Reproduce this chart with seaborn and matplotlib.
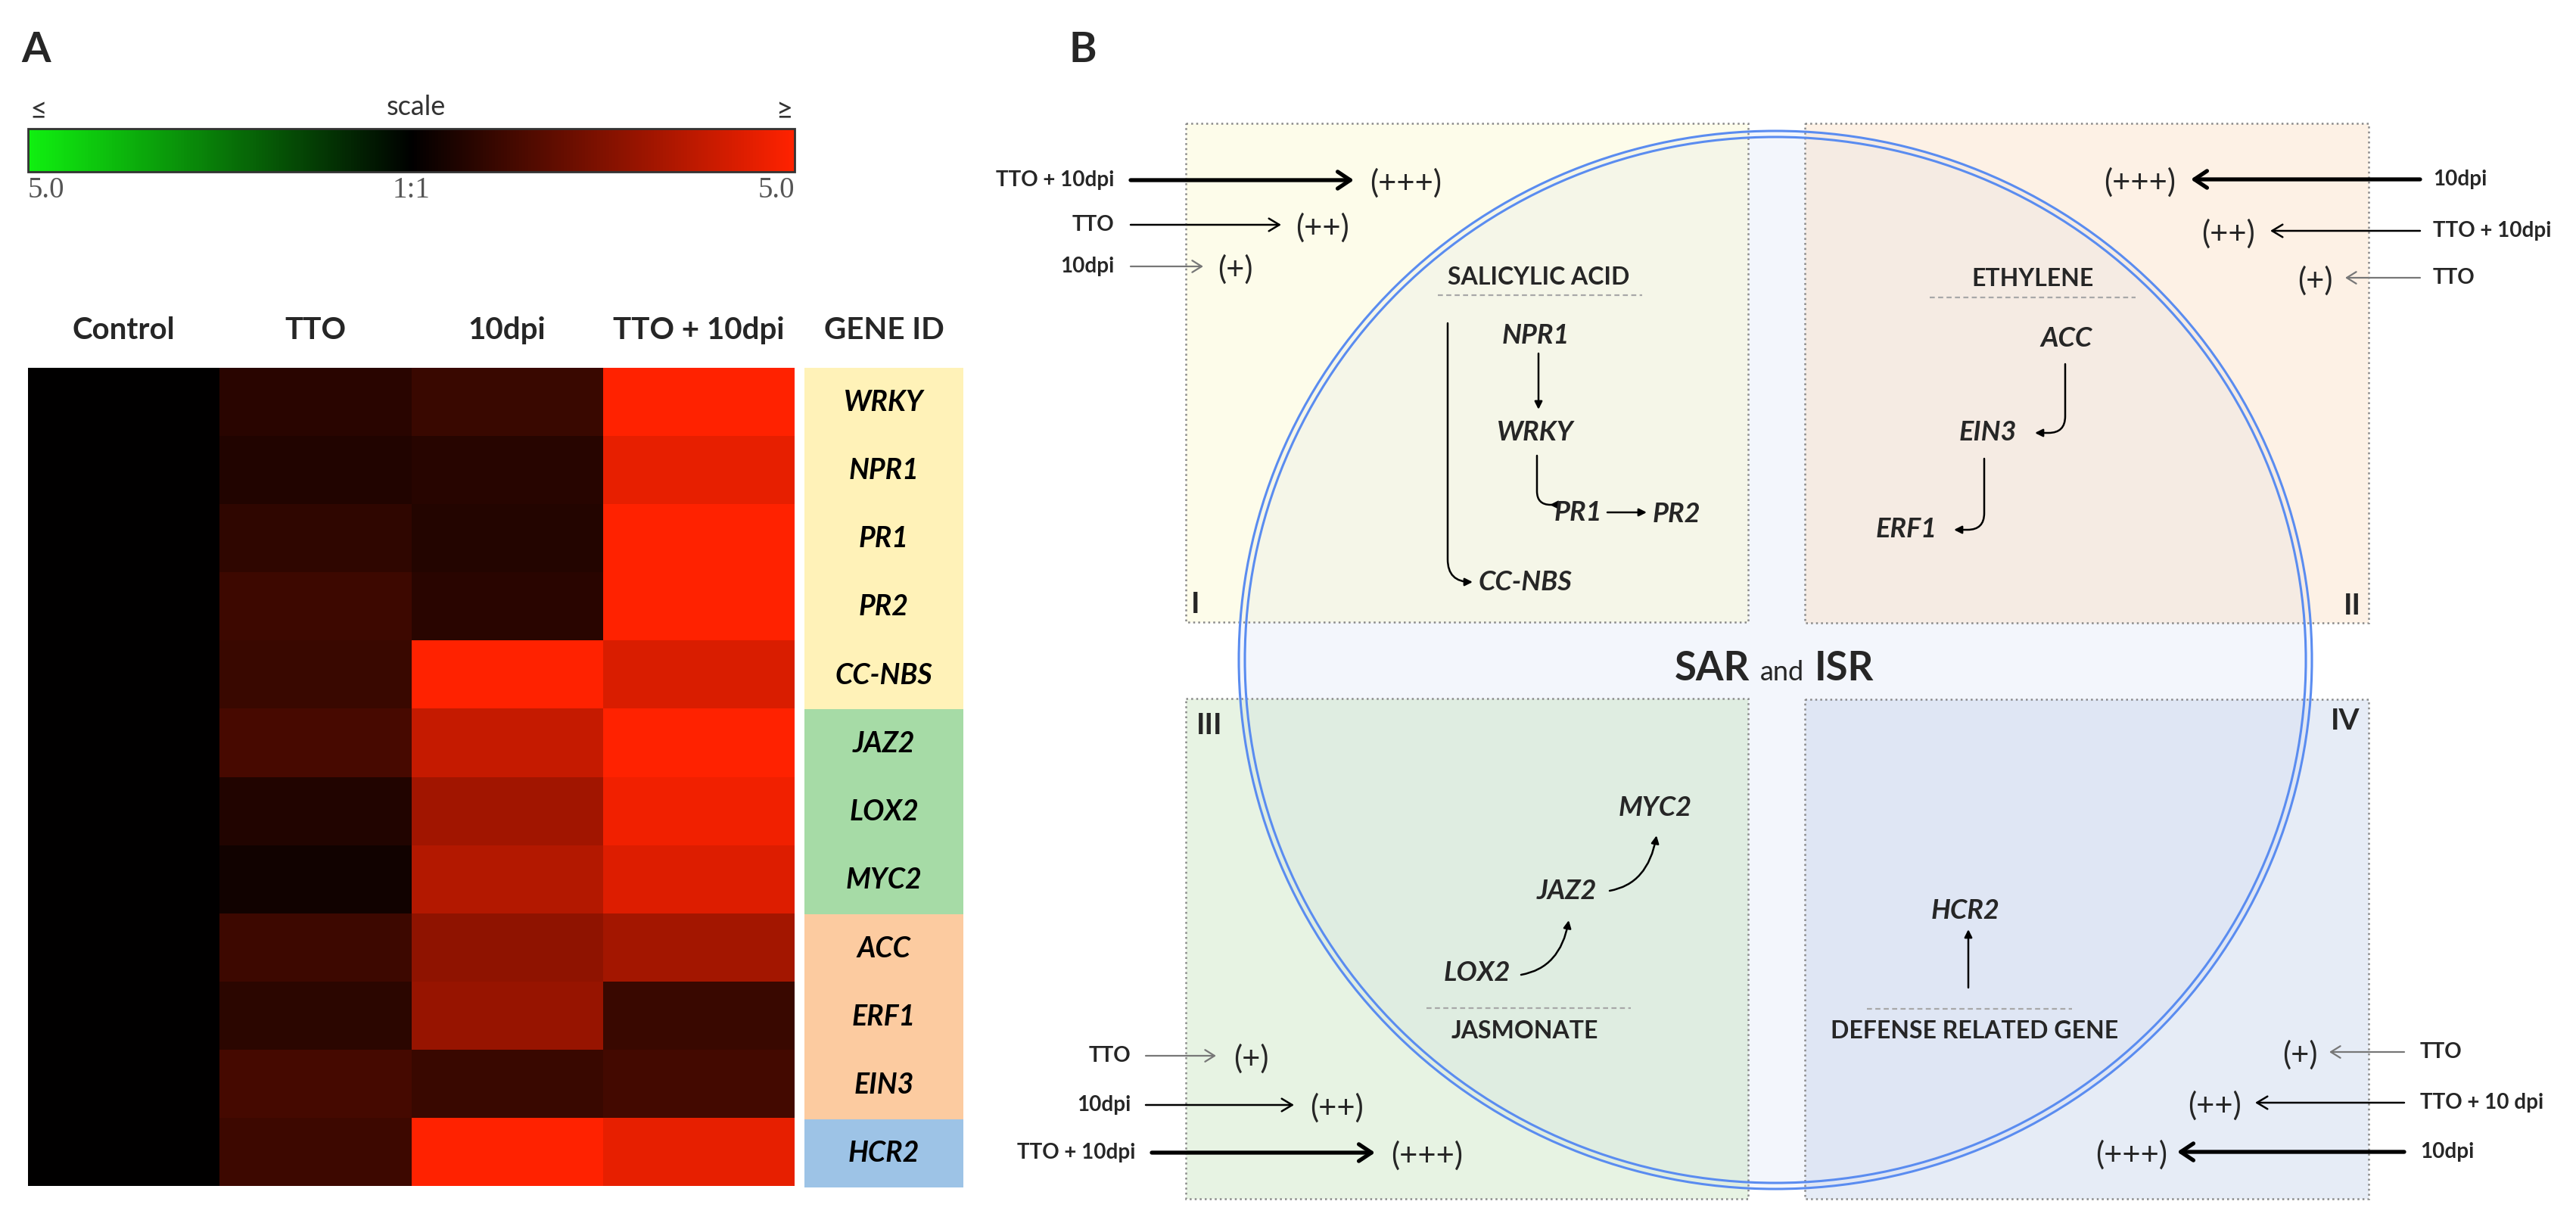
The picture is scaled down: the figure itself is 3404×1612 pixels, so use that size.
import numpy as np
import pandas as pd
import seaborn as sns
import matplotlib.pyplot as plt
from matplotlib.colors import LinearSegmentedColormap, ListedColormap, to_rgb
from matplotlib.patches import Rectangle, Ellipse

# données de la heatmap (échelle -5 .. 5, 0 = 1:1)
treatments = ["Control", "TTO", "10dpi", "TTO + 10dpi"]
genes = ["WRKY", "NPR1", "PR1", "PR2", "CC-NBS", "JAZ2", "LOX2", "MYC2", "ACC", "ERF1", "EIN3", "HCR2"]
control = [0.0] * 12
tto = [0.8, 0.65, 0.9, 1.2, 1.1, 1.4, 0.65, 0.35, 1.2, 0.85, 1.35, 1.2]
dpi10 = [1.1, 0.75, 0.7, 0.8, 5.0, 3.85, 3.15, 3.5, 2.8, 2.95, 1.1, 5.0]
tto_dpi10 = [5.0, 4.5, 5.0, 5.0, 4.25, 5.0, 4.7, 4.3, 3.2, 1.1, 1.3, 4.5]
gene_groups = ["SA"] * 5 + ["JA"] * 3 + ["ET"] * 3 + ["DEF"]
group_colors = {"SA": "#FFF2B8", "JA": "#A6DBA6", "ET": "#FCCBA0", "DEF": "#9DC3E6"}
scale_labels = ["5.0", "1:1", "5.0"]

W, H, DPI = 3404, 1612, 200

sns.set_style("white")
plt.rcParams['font.family'] = ['Lato', 'DejaVu Sans']

fig = plt.figure(figsize=(W / DPI, H / DPI), dpi=DPI)


def px_axes(x0, y0, x1, y1):
    return fig.add_axes([x0 / W, 1 - y1 / H, (x1 - x0) / W, (y1 - y0) / H])


# axe "pixel" pour le panneau B et les lettres
ax = fig.add_axes([0, 0, 1, 1])
ax.set_xlim(0, W)
ax.set_ylim(H, 0)
ax.axis('off')

# ---------------- Panel A ----------------
df = pd.DataFrame({"Control": control, "TTO": tto, "10dpi": dpi10, "TTO + 10dpi": tto_dpi10}, index=genes)
cmap = LinearSegmentedColormap.from_list("gr", [(0, "#10F010"), (0.5, "#000000"), (1, "#FF2200")])

ax_hm = px_axes(37, 486, 1050, 1567)
cax = px_axes(37, 170, 1050, 227)
sns.heatmap(df, ax=ax_hm, cmap=cmap, vmin=-5, vmax=5, cbar_ax=cax,
            cbar_kws={'orientation': 'horizontal'}, yticklabels=False)
ax_hm.tick_params(axis='x', top=True, bottom=False, labeltop=True, labelbottom=False,
                  length=0, pad=11, labelsize=14.5)
for t in ax_hm.get_xticklabels():
    t.set_fontweight('bold')
    t.set_rotation(0)

cbar = ax_hm.collections[0].colorbar
cbar.set_ticks([-5, 0, 5])
cbar.set_ticklabels(scale_labels)
cbar.ax.tick_params(length=0, labelsize=14, labelcolor='#555555', pad=2)
tl = cbar.ax.get_xticklabels()
tl[0].set_ha('left')
tl[-1].set_ha('right')
for t in tl:
    t.set_family('Liberation Serif')
cbar.outline.set_edgecolor('#333333')
cbar.outline.set_linewidth(1.0)

# colonne GENE ID
ax_g = px_axes(1063, 486, 1273, 1569)
codes = np.array([list(group_colors).index(g) for g in gene_groups]).reshape(-1, 1)
sns.heatmap(codes, ax=ax_g, cmap=ListedColormap(list(group_colors.values())), vmin=-0.5, vmax=3.5,
            cbar=False, annot=np.array(genes).reshape(-1, 1), fmt='',
            annot_kws={'fontsize': 13.5, 'fontweight': 'bold', 'fontstyle': 'italic', 'color': 'black'},
            xticklabels=["GENE ID"], yticklabels=False)
ax_g.tick_params(axis='x', top=True, bottom=False, labeltop=True, labelbottom=False,
                 length=0, pad=11, labelsize=14.5)
for t in ax_g.get_xticklabels():
    t.set_fontweight('bold')

ax.text(48, 82, "A", fontsize=20, fontweight='bold', ha='center', va='baseline')
ax.text(51, 146, "≤", fontsize=14, ha='center', va='center', color='#333333')
ax.text(550, 141, "scale", fontsize=13, ha='center', va='center', color='#333333')
ax.text(1036, 146, "≥", fontsize=14, ha='center', va='center', color='#333333')

# ---------------- Panel B ----------------
ax.text(1431, 82, "B", fontsize=20, fontweight='bold', ha='center', va='baseline')

# disque SAR/ISR (fond) puis quadrants semi-transparents
cx, cy, cw, ch = 2346, 872, 1418, 1398
ax.add_patch(Ellipse((cx, cy), cw, ch, facecolor='#F3F6FC', edgecolor='none', zorder=1))

alpha = 0.4
boxes = [(1567, 163, 2310, 822, "#FDFCEA"), (2385, 163, 3130, 823, "#FDF1E5"),
         (1567, 923, 2310, 1584, "#E7F3E3"), (2385, 924, 3130, 1584, "#E6ECF6")]
for x0, y0, x1, y1, c in boxes:
    base = [(v - (1 - alpha)) / alpha for v in to_rgb(c)]
    base = [min(max(v, 0), 1) for v in base]
    ax.add_patch(Rectangle((x0, y0), x1 - x0, y1 - y0, facecolor=(*base, alpha), edgecolor='#8A8A8A',
                           ls=':', lw=0.9, zorder=2))

ax.add_patch(Ellipse((cx, cy), cw, ch, fill=False, edgecolor='#5A8CF0', lw=1.1, zorder=3))
ax.add_patch(Ellipse((cx, cy), cw - 16, ch - 16, fill=False, edgecolor='#5A8CF0', lw=1.1, zorder=3))

ax.text(1580, 798, "I", fontsize=14, fontweight='bold', ha='center', va='center', zorder=6)
ax.text(3108, 800, "II", fontsize=14, fontweight='bold', ha='center', va='center', zorder=6)
ax.text(1598, 958, "III", fontsize=14, fontweight='bold', ha='center', va='center', zorder=6)
ax.text(3099, 952, "IV", fontsize=14, fontweight='bold', ha='center', va='center', zorder=6)

ax.text(2312, 899, "SAR", fontsize=19, fontweight='bold', ha='right', va='baseline', zorder=6)
ax.text(2355, 899, "and", fontsize=13, ha='center', va='baseline', zorder=6)
ax.text(2398, 899, "ISR", fontsize=19, fontweight='bold', ha='left', va='baseline', zorder=6)


def arrow(x0, y0, x1, y1, lw, color='black', hl=0.5, hw=0.3, cs='arc3', style='->'):
    ax.annotate('', xy=(x1, y1), xytext=(x0, y0), zorder=5,
                arrowprops=dict(arrowstyle=f'{style},head_length={hl},head_width={hw}', lw=lw,
                                color=color, connectionstyle=cs, shrinkA=0, shrinkB=0))


# flèches de niveau d'induction
lw_levels = {"+++": (1.9, 'black', 0.6, 0.4), "++": (0.9, 'black', 0.5, 0.3), "+": (0.8, '#777777', 0.45, 0.28)}
left_sets = [
    # (label, niveau, y, x label fin, x début, x fin, x marqueur)
    ("TTO + 10dpi", "+++", 238, 1472, 1494, 1789, 1810),
    ("TTO", "++", 297, 1472, 1494, 1693, 1712),
    ("10dpi", "+", 352, 1472, 1494, 1590, 1609),
    ("TTO", "+", 1395, 1494, 1514, 1607, 1630),
    ("10dpi", "++", 1460, 1494, 1514, 1710, 1731),
    ("TTO + 10dpi", "+++", 1523, 1500, 1522, 1817, 1838),
]
right_sets = [
    ("10dpi", "+++", 237, 3215, 3198, 2895, 2875),
    ("TTO + 10dpi", "++", 305, 3215, 3198, 3000, 2980),
    ("TTO", "+", 367, 3215, 3198, 3099, 3083),
    ("TTO", "+", 1390, 3198, 3177, 3078, 3063),
    ("TTO + 10 dpi", "++", 1457, 3198, 3177, 2980, 2962),
    ("10dpi", "+++", 1522, 3198, 3177, 2877, 2864),
]
for lab, lev, y, xl, xa, xb, xm in left_sets:
    lw, col, hl, hw = lw_levels[lev]
    ax.text(xl, y, lab, fontsize=10, fontweight='bold', ha='right', va='center', zorder=6)
    arrow(xa, y, xb, y, lw, col, hl, hw)
    ax.text(xm, y + 4, f"({lev})", fontsize=15, ha='left', va='center', zorder=6)
for lab, lev, y, xl, xa, xb, xm in right_sets:
    lw, col, hl, hw = lw_levels[lev]
    ax.text(xl, y, lab, fontsize=10, fontweight='bold', ha='left', va='center', zorder=6)
    arrow(xa, y, xb, y, lw, col, hl, hw)
    ax.text(xm, y + 4, f"({lev})", fontsize=15, ha='right', va='center', zorder=6)

# titres des voies
pathways = [("SALICYLIC ACID", 2033, 366, 390, 1900, 2170),
            ("ETHYLENE", 2686, 368, 393, 2550, 2822),
            ("JASMONATE", 2015, 1363, 1332, 1885, 2155),
            ("DEFENSE RELATED GENE", 2609, 1363, 1333, 2467, 2738)]
for name, x, y, yl, xl0, xl1 in pathways:
    ax.text(x, y, name, fontsize=11.5, fontweight='bold', ha='center', va='center', zorder=6)
    ax.plot([xl0, xl1], [yl, yl], ls=(0, (3, 2)), color='#A8A8A8', lw=0.8, zorder=6)

# gènes du schéma
nodes = [("NPR1", 2029, 443), ("WRKY", 2029, 571), ("PR1", 2085, 678), ("PR2", 2215, 679),
         ("CC-NBS", 2015, 769), ("ACC", 2731, 448), ("EIN3", 2627, 572), ("ERF1", 2519, 700),
         ("MYC2", 2187, 1067), ("JAZ2", 2070, 1177), ("LOX2", 1952, 1286), ("HCR2", 2597, 1204)]
for name, x, y in nodes:
    ax.text(x, y, name, fontsize=13, fontweight='bold', fontstyle='italic', ha='center', va='center', zorder=6)

pk = dict(hl=0.3, hw=0.15, style='-|>')
arrow(2033, 467, 2033, 541, 0.9, **pk)
arrow(2031, 602, 2048, 667, 0.9, cs='angle,angleA=90,angleB=0,rad=18', **pk)
arrow(2124, 677, 2176, 677, 0.9, **pk)
arrow(1913, 427, 1946, 769, 0.9, cs='angle,angleA=90,angleB=0,rad=30', **pk)
arrow(2729, 481, 2689, 572, 0.9, cs='angle,angleA=90,angleB=0,rad=22', **pk)
arrow(2622, 606, 2582, 700, 0.9, cs='angle,angleA=90,angleB=0,rad=22', **pk)
arrow(2010, 1288, 2073, 1216, 0.9, cs='angle3,angleA=10,angleB=80', **pk)
arrow(2127, 1177, 2189, 1104, 0.9, cs='angle3,angleA=10,angleB=80', **pk)
arrow(2601, 1305, 2601, 1228, 0.9, **pk)

fig.savefig("out.png", dpi=DPI)
